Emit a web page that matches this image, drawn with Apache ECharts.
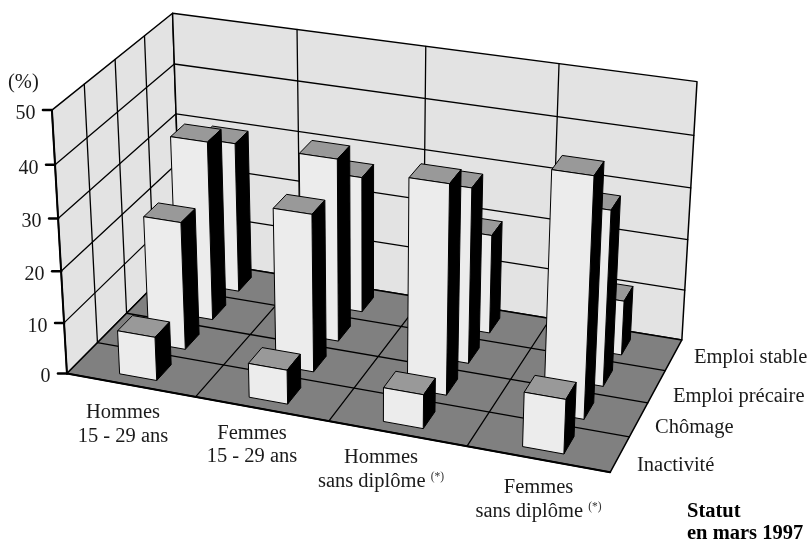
<!DOCTYPE html>
<html>
<head>
<meta charset="utf-8">
<style>
  html, body { margin: 0; padding: 0; background: #fff; }
  #chart { width: 811px; height: 542px; }
</style>
<script src="https://cdn.jsdelivr.net/npm/echarts@6/dist/echarts.min.js"></script>
</head>
<body>
<div id="chart"></div>
<script>
const groups = [['Hommes', '15 - 29 ans'], ['Femmes', '15 - 29 ans'], ['Hommes', 'sans diplôme'], ['Femmes', 'sans diplôme']];
const groupNotes = ['', '', '(*)', '(*)'];
const statuses = ['Inactivité', 'Chômage', 'Emploi précaire', 'Emploi stable'];
const yTicks = [0, 10, 20, 30, 40, 50];

// one list per status, same order as groups
const inactivite = [8.5, 6.6, 6.5, 10.3];
const chomage = [25, 30.5, 40, 45.2];
const precaire = [35.3, 35.7, 34, 33.7];
const stable = [30, 27, 19.5, 10.7];
const seriesValues = [inactivite, chomage, precaire, stable];

const Y_MAX = 50;
const BAR_W = 0.29;
const BAR_D = 0.5;
const FONT = '"Liberation Serif", "Times New Roman", serif';
const LABEL_SIZE = 20.5;

// box corners on screen: [u, v, w, px, py]
const anchors = [
  [0, 0, 0, 67, 373],
  [1, 0, 0, 610, 473],
  [1, 1, 0, 682, 339],
  [0, 1, 0, 181, 259],
  [0, 0, 1, 52, 110],
  [0, 1, 1, 172.5, 13],
  [1, 1, 1, 697, 82],
];

// where the outer labels sit
const groupLabelPos = [[123, 424.5], [252, 445], [381, 469.5], [538.5, 499.5]];
const statusLabelPos = [[637, 466], [655, 428], [673, 397], [694, 358]];

// least squares fit of the 3x4 projection (last term fixed to 1)
const fitProjection = (points) => {
  const rows = [];
  const rhs = [];
  points.forEach(([u, v, w, x, y]) => {
    rows.push([u, v, w, 1, 0, 0, 0, 0, -u * x, -v * x, -w * x]);
    rhs.push(x);
    rows.push([0, 0, 0, 0, u, v, w, 1, -u * y, -v * y, -w * y]);
    rhs.push(y);
  });
  const n = 11;
  const m = [];
  for (let i = 0; i < n; i++) {
    m.push(new Array(n + 1).fill(0));
    for (let j = 0; j < n; j++) {
      rows.forEach((r) => { m[i][j] += r[i] * r[j]; });
    }
    rows.forEach((r, k) => { m[i][n] += r[i] * rhs[k]; });
  }
  for (let c = 0; c < n; c++) {
    let p = c;
    for (let r = c + 1; r < n; r++) if (Math.abs(m[r][c]) > Math.abs(m[p][c])) p = r;
    [m[c], m[p]] = [m[p], m[c]];
    for (let r = 0; r < n; r++) {
      if (r === c) continue;
      const f = m[r][c] / m[c][c];
      for (let k = c; k <= n; k++) m[r][k] -= f * m[c][k];
    }
  }
  return m.map((row, i) => row[n] / row[i]);
};

const h = fitProjection(anchors);
const project = (u, v, w) => {
  const d = h[8] * u + h[9] * v + h[10] * w + 1;
  return [
    (h[0] * u + h[1] * v + h[2] * w + h[3]) / d,
    (h[4] * u + h[5] * v + h[6] * w + h[7]) / d,
  ];
};
const toW = (value) => echarts.number.linearMap(value, [0, Y_MAX], [0, 1]);

const line = (a, b, width) => ({
  type: 'line',
  shape: { x1: a[0], y1: a[1], x2: b[0], y2: b[1] },
  style: { stroke: '#000', lineWidth: width, lineCap: 'round' },
});
const poly = (points, fill, width) => ({
  type: 'polygon',
  shape: { points },
  style: { fill, stroke: '#000', lineWidth: width, lineJoin: 'round' },
});
const label = (x, y, text, extra) => ({
  type: 'text',
  x,
  y,
  style: Object.assign({ text, fill: '#1a1a1a', font: `${LABEL_SIZE}px ${FONT}` }, extra),
});

const renderBox = (params) => {
  if (params.dataIndex > 0) return null;
  const children = [];
  // walls and floor
  children.push(poly([project(0, 0, 0), project(0, 1, 0), project(0, 1, 1), project(0, 0, 1)], '#e3e3e3', 1.5));
  children.push(poly([project(0, 1, 0), project(1, 1, 0), project(1, 1, 1), project(0, 1, 1)], '#e3e3e3', 1.5));
  children.push(poly([project(0, 0, 0), project(1, 0, 0), project(1, 1, 0), project(0, 1, 0)], '#808080', 1.5));
  // grid on the walls
  yTicks.slice(1, -1).forEach((t) => {
    const w = toW(t);
    children.push(line(project(0, 0, w), project(0, 1, w), 1.3));
    children.push(line(project(0, 1, w), project(1, 1, w), 1.3));
  });
  for (let i = 1; i < groups.length; i++) {
    const u = i / groups.length;
    children.push(line(project(u, 1, 0), project(u, 1, 1), 1.3));
    children.push(line(project(u, 0, 0), project(u, 1, 0), 1.3));
  }
  for (let j = 1; j < statuses.length; j++) {
    const v = j / statuses.length;
    children.push(line(project(0, v, 0), project(0, v, 1), 1.3));
    children.push(line(project(0, v, 0), project(1, v, 0), 1.3));
  }
  children.push(line(project(0, 0, 0), project(0, 0, 1), 2));
  children.push(line(project(0, 0, 0), project(1, 0, 0), 2));
  // value axis
  yTicks.forEach((t) => {
    const p = project(0, 0, toW(t));
    children.push(line([p[0] - 9, p[1]], p, 2.5));
    children.push(label(p[0] - 16.5, p[1] + 3.5, String(t), {
      align: 'right', verticalAlign: 'middle', font: `20px ${FONT}`,
    }));
  });
  return { type: 'group', children };
};

const renderBar = (params, api) => {
  const i = api.value(0);
  const j = api.value(1);
  const w = toW(api.value(2));
  const u0 = (i + 0.5 - BAR_W / 2) / groups.length;
  const u1 = (i + 0.5 + BAR_W / 2) / groups.length;
  const v0 = (j + 0.5 - BAR_D / 2) / statuses.length;
  const v1 = (j + 0.5 + BAR_D / 2) / statuses.length;
  return {
    type: 'group',
    children: [
      poly([project(u0, v0, w), project(u1, v0, w), project(u1, v1, w), project(u0, v1, w)], '#999999', 1),
      poly([project(u1, v0, 0), project(u1, v1, 0), project(u1, v1, w), project(u1, v0, w)], '#000000', 1),
      poly([project(u0, v0, 0), project(u1, v0, 0), project(u1, v0, w), project(u0, v0, w)], '#ececec', 1),
    ],
  };
};

const renderLabels = () => {
  const children = [];
  groups.forEach((lines, i) => {
    const note = groupNotes[i] ? ` {note|${groupNotes[i]}}` : '';
    children.push(label(groupLabelPos[i][0], groupLabelPos[i][1], `${lines[0]}\n${lines[1]}${note}`, {
      align: 'center',
      verticalAlign: 'middle',
      lineHeight: 23.5,
      rich: { note: { font: `11.5px ${FONT}`, fill: '#333', padding: [0, 0, 8, 0] } },
    }));
  });
  statuses.forEach((name, j) => {
    children.push(label(statusLabelPos[j][0], statusLabelPos[j][1], name, { align: 'left', verticalAlign: 'middle' }));
  });
  children.push(label(8, 83, '(%)', { verticalAlign: 'middle' }));
  children.push(label(687, 523, 'Statut\nen mars 1997', {
    verticalAlign: 'middle', font: `bold ${LABEL_SIZE}px ${FONT}`, lineHeight: 22, fill: '#000',
  }));
  return { type: 'group', children };
};

// back row first so nearer bars paint over it
const barData = [];
for (let j = statuses.length - 1; j >= 0; j--) {
  groups.forEach((g, i) => barData.push([i, j, seriesValues[j][i]]));
}

const chart = echarts.init(document.getElementById('chart'), null, { renderer: 'canvas' });
chart.setOption({
  animation: false,
  series: [
    { type: 'custom', coordinateSystem: 'none', silent: true, data: [[0]], renderItem: renderBox, z: 1 },
    { type: 'custom', coordinateSystem: 'none', silent: true, data: barData, renderItem: renderBar, z: 2 },
    { type: 'custom', coordinateSystem: 'none', silent: true, data: [[0]], renderItem: renderLabels, z: 3 },
  ],
});
</script>
</body>
</html>
